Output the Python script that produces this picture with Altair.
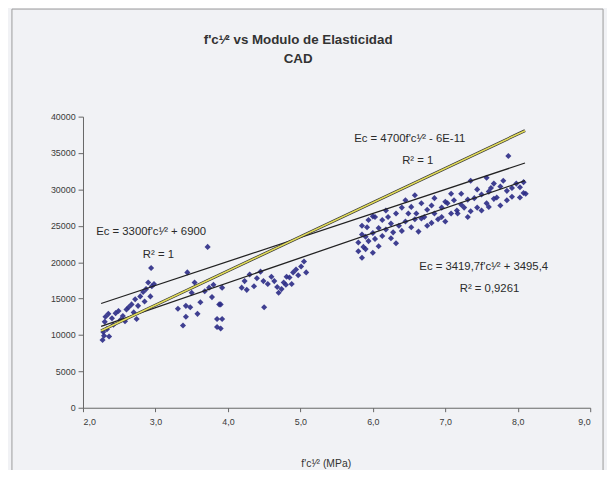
import altair as alt
import pandas as pd

# ---- data ----
fc_sqrt = [
    2.27, 2.29, 2.36, 2.28, 2.31, 2.35, 2.30, 2.40, 2.45, 2.49, 2.55, 2.60, 2.63, 2.67, 2.70,
    2.72, 2.74, 2.76, 2.79, 2.83, 2.85, 2.87, 2.90, 2.93, 2.95, 2.94, 2.98, 2.58, 2.52, 2.42, 2.33,
    3.31, 3.42, 3.42, 3.44, 3.54, 3.58, 3.62, 3.50, 3.72, 3.74, 3.78, 3.88, 3.85, 3.85, 3.68,
    3.38, 3.48, 3.80, 3.92, 3.90, 3.92, 3.90,
    4.19, 4.23, 4.30, 4.36, 4.40, 4.49, 4.50, 4.55, 4.60, 4.64, 4.68, 4.74, 4.77, 4.81, 4.85,
    4.88, 4.90, 4.94, 4.97, 5.01, 5.05, 5.08, 4.26, 4.45, 4.70, 4.80,
    5.80, 5.80, 5.85, 5.85, 5.85, 5.87, 5.90, 5.90, 5.92, 5.94, 5.94, 6.00, 6.00, 6.00, 6.03,
    6.03, 6.08, 6.08, 6.13, 6.13, 6.18, 6.18, 6.21, 6.25, 6.25, 6.28, 6.32, 6.32, 6.36, 6.40,
    6.40, 6.45, 6.45, 6.49, 6.53, 6.53, 6.58, 6.58, 6.60, 6.63, 6.67, 6.67, 6.71, 6.75, 6.75,
    6.81, 6.81, 6.85, 6.85, 6.90, 6.95, 6.95, 7.00, 7.00, 7.03, 7.08, 7.08, 7.12, 7.16, 7.17,
    7.22, 7.22, 7.26, 7.31, 7.31, 7.35, 7.35, 7.40, 7.44, 7.44, 7.50, 7.50, 7.57, 7.57, 7.60,
    7.60, 7.63, 7.67, 7.67, 7.71, 7.76, 7.76, 7.80, 7.85, 7.85, 7.87, 7.92, 7.92, 7.98, 8.03,
    8.03, 8.08, 8.08, 8.11,
]
ec = [
    9300, 9900, 9800, 10400, 12500, 12900, 11800, 12300, 13000, 13300, 12600, 13500, 13800, 14200, 13100,
    14900, 12200, 14000, 15300, 15900, 14600, 16300, 17200, 15300, 16700, 19200, 17000, 11900, 12100, 11400, 10800,
    13600, 14000, 12500, 18600, 17200, 12900, 14500, 15800, 22100, 16500, 15200, 14200, 12200, 11100, 16000,
    11300, 13800, 16900, 16500, 14200, 12200, 10900,
    16500, 17400, 18300, 16700, 17800, 17400, 13800, 17000, 18000, 17400, 16600, 16300, 17200, 18000, 17900,
    17000, 18600, 19000, 18200, 19400, 20100, 18600, 16200, 18700, 15800, 16900,
    21500, 22700, 20600, 23800, 25000, 22100, 23500, 21800, 24800, 25800, 22900, 24000, 21300, 26300, 26200,
    23200, 24700, 22200, 25800, 23600, 24500, 27100, 26200, 23300, 25300, 24100, 26700, 22600, 25000, 27500,
    24300, 28500, 25600, 26700, 24800, 27600, 29200, 25900, 26700, 24200, 28100, 26000, 26200, 27200, 25000,
    25400, 27800, 26700, 28800, 25900, 27500, 26200, 28300, 25600, 28100, 26700, 29400, 28500, 27100, 26700,
    29400, 27900, 27500, 26200, 28600, 31200, 27000, 28800, 27500, 30000, 27100, 29300, 31600, 28100, 27600,
    29700, 30200, 28700, 30800, 28900, 27800, 30400, 31200, 29800, 28500, 34600, 30200, 29000, 30800, 28900,
    30300, 29500, 31000, 29400,
]

# trendlines, as stated on the chart (slope, intercept), over the data range
line_x = [2.25, 8.1]
aci_slope, aci_icpt = 4700, -6e-11
nsr_slope, nsr_icpt = 3300, 6900
reg_slope, reg_icpt = 3419.7, 3495.4

# equation labels and their anchor positions (data units)
eq_text = [
    "Ec = 4700f'c¹⁄² - 6E-11", "R² = 1",
    "Ec = 3300f'c¹⁄² + 6900", "R² = 1",
    "Ec = 3419,7f'c¹⁄² + 3495,4", "R² = 0,9261",
]
eq_x = [6.51, 6.62, 2.94, 3.04, 7.53, 7.61]
eq_y = [36900, 33900, 24200, 21000, 19300, 16300]

title_lines = ["f'c¹⁄² vs Modulo de Elasticidad", "CAD"]

x_ticks = [2, 3, 4, 5, 6, 7, 8, 9]
y_ticks = [0, 5000, 10000, 15000, 20000, 25000, 30000, 35000, 40000]

FONT = "Liberation Sans Narrow, Arial Narrow, Liberation Sans, sans-serif"

pts = pd.DataFrame({"x": fc_sqrt, "y": ec})
lines = pd.DataFrame({
    "x": line_x * 3,
    "y": [aci_slope * v + aci_icpt for v in line_x]
       + [nsr_slope * v + nsr_icpt for v in line_x]
       + [reg_slope * v + reg_icpt for v in line_x],
    "s": ["aci"] * 2 + ["nsr"] * 2 + ["reg"] * 2,
})
eqs = pd.DataFrame({"x": eq_x, "y": eq_y, "t": eq_text})

xs = alt.Scale(domain=[2, 9], nice=False)
ys = alt.Scale(domain=[0, 40000], nice=False)

xax = alt.Axis(
    values=x_ticks, labelExpr="replace(format(datum.value, '.1f'), '.', ',')",
    title="f'c¹⁄² (MPa)", grid=False, tickSize=4, labelPadding=6, titlePadding=33,
    titleX=246, titleAnchor="start", titleAlign="center", labelOverlap=False,
)
yax = alt.Axis(values=y_ticks, format="d", title=None, grid=False, tickSize=5,
               labelPadding=3, labelOverlap=False)

X = alt.X("x:Q", scale=xs, axis=xax)
Y = alt.Y("y:Q", scale=ys, axis=yax)

scatter = alt.Chart(pts).mark_point(
    shape="diamond", filled=True, size=38, color="#2b2b86", opacity=0.9
).encode(x=X, y=Y)

black_lines = alt.Chart(lines).mark_line(color="#222222", strokeWidth=1.3).encode(
    x=X, y=Y, detail="s:N"
)
aci_under = alt.Chart(lines[lines.s == "aci"]).mark_line(color="#333333", strokeWidth=3).encode(
    x=X, y=Y
)
aci_yellow = alt.Chart(lines[lines.s == "aci"]).mark_line(color="#e2dc5a", strokeWidth=1.6).encode(
    x=X, y=Y
)

labels = alt.Chart(eqs).mark_text(font=FONT, fontSize=11.5, color="#2a2a2a").encode(
    x=X, y=Y, text="t:N"
)

title1 = alt.Chart(pd.DataFrame({"t": [title_lines[0]]})).mark_text(
    font=FONT, fontSize=13.5, fontWeight="bold", color="#333333"
).encode(text="t:N", x=alt.value(218), y=alt.value(-78))
title2 = alt.Chart(pd.DataFrame({"t": [title_lines[1]]})).mark_text(
    font=FONT, fontSize=13.5, fontWeight="bold", color="#333333"
).encode(text="t:N", x=alt.value(218), y=alt.value(-58))

frame = alt.Chart(pd.DataFrame({"a": [0]})).mark_rect(
    fill=None, stroke="#9a9a9a", strokeWidth=1
).encode(x=alt.value(-72), x2=alt.value(527), y=alt.value(-109), y2=alt.value(362))

chart = alt.layer(scatter, black_lines, aci_under, aci_yellow, labels, title1, title2, frame).properties(
    width=514, height=295,
    padding={"left": 76, "top": 107, "right": 17, "bottom": 60},
    autosize="none",
    background="#f1f2f5",
).configure_view(stroke=None).configure_axis(
    labelFont=FONT, titleFont=FONT, labelFontSize=9, titleFontSize=10.5, labelColor="#3a3a3a",
    titleColor="#333333", titleFontWeight="normal", domainColor="#666666", tickColor="#666666",
)

chart.save("out.html", embed_options={"renderer": "svg", "actions": False})
